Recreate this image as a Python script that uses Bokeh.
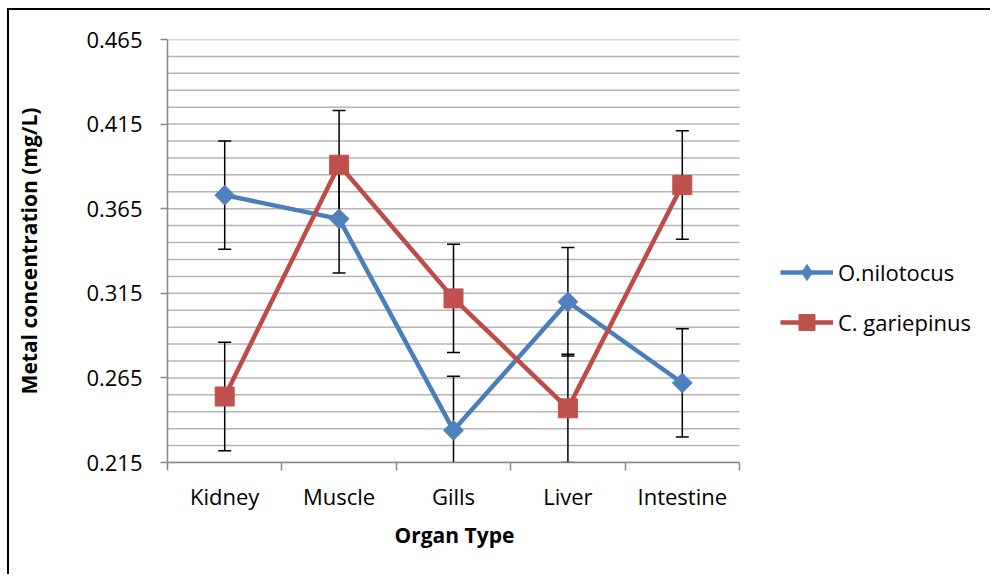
import math
import numpy as np
from bokeh.plotting import figure
from bokeh.models import Range1d, FixedTicker, Legend, LegendItem, Title
from bokeh.embed import file_html
from bokeh.resources import INLINE

# ---- data ----
categories = ["Kidney", "Muscle", "Gills", "Liver", "Intestine"]
nilotocus = [0.373, 0.359, 0.234, 0.310, 0.262]
nilotocus_err = [0.032, 0.032, 0.032, 0.032, 0.032]
gariepinus = [0.254, 0.391, 0.312, 0.247, 0.379]
gariepinus_err = [0.032, 0.032, 0.032, 0.032, 0.032]
y_ticks = [0.215, 0.265, 0.315, 0.365, 0.415, 0.465]
y_tick_labels = ["0.215", "0.265", "0.315", "0.365", "0.415", "0.465"]
series_names = ["O.nilotocus", "C. gariepinus"]
x_title = "Organ Type"
y_title = "Metal concentration (mg/L)"

FONT = "Open Sans"
BLUE_LINE, BLUE_MARK = "#4A7EBB", "#4F81BD"
RED_LINE, RED_MARK = "#BE4B48", "#C0504D"
AXIS_COL = "#868686"
GRID_COL = "#b4b4b4"

n = len(categories)
x_pos = [i + 0.5 for i in range(n)]

# canvas offset: the outer chart border is drawn as a shadow just outside it
OX, OY = 9, 10
W, H = 992 - OX, 581 - OY - 5
F_LEFT, F_TOP, F_BOTTOM = 167 - OX, 39 - OY, 462 - OY
PLOT_RIGHT = 739 - OX               # where the category axis ends
# the frame extends to the canvas right edge so the legend fits inside it
x_end = n * (W - F_LEFT) / (PLOT_RIGHT - F_LEFT)

p = figure(width=W, height=H, output_backend="svg", toolbar_location=None,
           x_range=Range1d(0, x_end), y_range=Range1d(y_ticks[0], y_ticks[-1]),
           min_border_left=F_LEFT, min_border_right=0, min_border_top=F_TOP,
           min_border_bottom=H - F_BOTTOM)
p.margin = (OY, 0, 0, OX)
p.styles = {"box-shadow": "-2px -2px 0px 0px #000000"}
p.outline_line_color = None
p.background_fill_color = "white"
p.border_fill_color = "white"

# horizontal grid lines, only across the category area
grid_vals = [round(v, 3) for v in np.arange(y_ticks[0], y_ticks[-1] + 0.0001, 0.01)]
p.xgrid.visible = False
p.ygrid.visible = False
p.segment(x0=[0] * len(grid_vals), y0=grid_vals, x1=[n] * len(grid_vals), y1=grid_vals,
          line_color=GRID_COL, line_width=1.5)

# y axis
ya = p.yaxis[0]
ya.ticker = FixedTicker(ticks=y_ticks, minor_ticks=[])
ya.major_label_overrides = {t: l for t, l in zip(y_ticks, y_tick_labels)}
ya.axis_line_color = AXIS_COL
ya.axis_line_width = 1.5
ya.major_tick_line_color = AXIS_COL
ya.major_tick_line_width = 1.5
ya.major_tick_out = 7
ya.major_tick_in = 0
ya.minor_tick_line_color = None
ya.minor_tick_out = 0
ya.major_label_standoff = 18
ya.major_label_text_font = FONT
ya.major_label_text_font_size = "22px"
ya.major_label_text_color = "black"
ya.axis_label = y_title
ya.axis_label_text_font = FONT
ya.axis_label_text_font_style = "bold"
ya.axis_label_text_font_size = "21px"
ya.axis_label_text_color = "black"
ya.axis_label_standoff = 40

# x axis
xa = p.xaxis[0]
xa.bounds = (0, n)
xa.ticker = FixedTicker(ticks=x_pos, minor_ticks=list(range(n + 1)))
xa.major_label_overrides = {x: c for x, c in zip(x_pos, categories)}
xa.axis_line_color = AXIS_COL
xa.axis_line_width = 1.5
xa.major_tick_out = 0
xa.major_tick_in = 0
xa.major_tick_line_color = None
xa.minor_tick_line_color = AXIS_COL
xa.minor_tick_line_width = 1.5
xa.minor_tick_out = 8
xa.minor_tick_in = 0
xa.major_label_standoff = 10
xa.major_label_text_font = FONT
xa.major_label_text_font_size = "22px"
xa.major_label_text_color = "black"

# x title as a side title, placed under the category area
xt = Title(text=x_title, align="left", text_font=FONT, text_font_style="bold",
           text_font_size="21px", text_color="black", standoff=11, offset=227)
p.add_layout(xt, "below")

# error bars (under the series)
for vals, errs in ((nilotocus, nilotocus_err), (gariepinus, gariepinus_err)):
    lo = [v - e for v, e in zip(vals, errs)]
    hi = [v + e for v, e in zip(vals, errs)]
    p.segment(x0=x_pos, y0=lo, x1=x_pos, y1=hi, line_color="black", line_width=1.5)
    p.scatter(x=x_pos + x_pos, y=lo + hi, marker="dash", size=13,
              line_color="black", line_width=1.5)

# series
bl = p.line(x_pos, nilotocus, line_color=BLUE_LINE, line_width=4.5)
bm = p.scatter(x_pos, nilotocus, marker="square", angle=math.pi / 4, size=14,
               fill_color=BLUE_MARK, line_color=BLUE_MARK)
rl = p.line(x_pos, gariepinus, line_color=RED_LINE, line_width=4.5)
rm = p.scatter(x_pos, gariepinus, marker="square", size=19,
               fill_color=RED_MARK, line_color=RED_MARK)
# legend-only marker for the diamond (hidden in the plot)
bm_leg = p.scatter(x_pos, nilotocus, marker="diamond", size=14,
                   fill_color=BLUE_MARK, line_color=BLUE_MARK, visible=False)

legend = Legend(items=[LegendItem(label=series_names[0], renderers=[bl, bm_leg]),
                       LegendItem(label=series_names[1], renderers=[rl, rm])],
                location=(771 - F_LEFT, 120))
legend.border_line_color = None
legend.background_fill_alpha = 0
legend.padding = 0
legend.margin = 0
legend.glyph_width = 53
legend.glyph_height = 40
legend.label_height = 40
legend.label_standoff = 5
legend.spacing = 10
legend.label_text_font = FONT
legend.label_text_font_size = "22px"
legend.label_text_color = "black"
p.add_layout(legend, "center")

open("out.html", "w").write(file_html(p, INLINE))
